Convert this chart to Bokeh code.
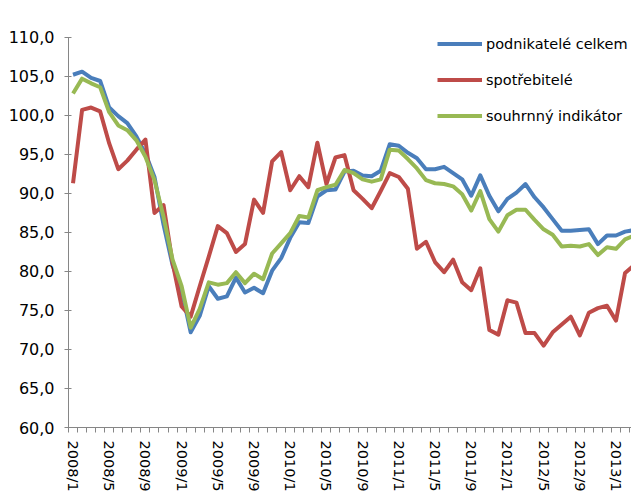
from bokeh.plotting import figure
from bokeh.models import FixedTicker, Legend, LegendItem, Range1d, ColumnDataSource
from bokeh.embed import file_html
from bokeh.resources import INLINE

# ---- data -------------------------------------------------------------
years = [2008, 2009, 2010, 2011, 2012, 2013]
months = [f"{y}/{m}" for y in years for m in range(1, 13)][:63]   # 2008/1 .. 2013/3

podnikatele = [105.2, 105.6, 104.8, 104.4, 101.0, 99.9, 99.0, 97.3, 95.1, 92.1,
               86.0, 80.8, 77.6, 72.2, 74.3, 78.1, 76.5, 76.8, 79.2, 77.3,
               77.9, 77.2, 80.1, 81.7, 84.3, 86.3, 86.2, 89.6, 90.4, 90.5,
               92.8, 92.9, 92.3, 92.2, 92.9, 96.3, 96.1, 95.2, 94.5, 93.1,
               93.1, 93.4, 92.6, 91.8, 89.7, 92.3, 89.7, 87.7, 89.3, 90.1,
               91.2, 89.5, 88.2, 86.7, 85.2, 85.2, 85.3, 85.4, 83.5, 84.6,
               84.6, 85.1, 85.3]

spotrebitele = [91.3, 100.7, 101.0, 100.5, 96.4, 93.1, 94.2, 95.6, 96.9, 87.5,
                88.5, 81.1, 75.5, 74.2, 78.1, 81.9, 85.8, 84.9, 82.5, 83.5,
                89.2, 87.5, 94.1, 95.3, 90.4, 92.2, 90.8, 96.5, 91.2, 94.6,
                94.9, 90.4, 89.3, 88.1, 90.3, 92.6, 92.1, 90.6, 82.9, 83.8,
                81.2, 79.9, 81.5, 78.6, 77.6, 80.4, 72.5, 71.9, 76.3, 76.0,
                72.1, 72.1, 70.5, 72.2, 73.2, 74.2, 71.8, 74.7, 75.3, 75.6,
                73.7, 79.8, 80.8]

souhrnny = [102.8, 104.7, 104.1, 103.6, 100.4, 98.7, 98.1, 96.8, 94.7, 91.7,
            87.0, 81.5, 78.1, 72.8, 75.2, 78.6, 78.3, 78.5, 79.9, 78.5,
            79.7, 79.0, 82.3, 83.6, 84.9, 87.1, 86.9, 90.4, 90.8, 91.1,
            93.0, 92.6, 91.8, 91.5, 91.8, 95.6, 95.5, 94.4, 93.2, 91.7,
            91.3, 91.2, 90.9, 89.9, 87.8, 90.3, 86.7, 85.1, 87.2, 87.9,
            87.9, 86.6, 85.4, 84.7, 83.2, 83.3, 83.2, 83.5, 82.1, 83.1,
            82.9, 84.1, 84.6]

series_names = ["podnikatelé celkem", "spotřebitelé", "souhrnný indikátor"]
y_ticks = [60, 65, 70, 75, 80, 85, 90, 95, 100, 105, 110]
y_tick_labels = ["60,0", "65,0", "70,0", "75,0", "80,0", "85,0", "90,0",
                 "95,0", "100,0", "105,0", "110,0"]

# ---- figure -----------------------------------------------------------
FONT = "DejaVu Sans"
idx = list(range(len(months)))
src = ColumnDataSource(dict(x=idx, a=podnikatele, b=spotrebitele, c=souhrnny))

p = figure(width=631, height=494, output_backend="svg", toolbar_location=None,
           x_range=Range1d(-0.5, 61.71), y_range=Range1d(60, 111),
           min_border_left=68, min_border_right=0, min_border_top=29,
           min_border_bottom=66)
p.outline_line_color = None
p.grid.visible = False

colors = ["#4A7EBB", "#BE4B48", "#98B954"]
r1 = p.line("x", "a", source=src, line_width=4, color=colors[0], line_join="round")
r2 = p.line("x", "b", source=src, line_width=4, color=colors[1], line_join="round")
r3 = p.line("x", "c", source=src, line_width=4, color=colors[2], line_join="round")

# y axis
ya = p.yaxis[0]
ya.bounds = (60, 110)
ya.ticker = FixedTicker(ticks=y_ticks, minor_ticks=[])
ya.major_label_overrides = {t: l for t, l in zip(y_ticks, y_tick_labels)}
ya.axis_line_color = "#868686"
ya.major_tick_line_color = "#868686"
ya.major_tick_in = 3
ya.major_tick_out = 4
ya.major_label_standoff = 10
ya.major_label_text_font = FONT
ya.major_label_text_font_size = "16px"
ya.major_label_text_color = "#000000"

# x axis
xa = p.xaxis[0]
major_x = idx[::4]
xa.ticker = FixedTicker(ticks=major_x, minor_ticks=[i - 0.5 for i in range(len(months))])
xa.major_label_overrides = {i: months[i] for i in major_x}
xa.major_label_orientation = "vertical"
xa.axis_line_color = "#868686"
xa.major_tick_line_color = None
xa.major_tick_in = 0
xa.major_tick_out = 0
xa.minor_tick_line_color = "#868686"
xa.minor_tick_in = 0
xa.minor_tick_out = 5
xa.major_label_standoff = 8
xa.major_label_text_font = FONT
xa.major_label_text_font_size = "14.5px"
xa.major_label_text_color = "#000000"

legend = Legend(items=[LegendItem(label=series_names[0], renderers=[r1]),
                       LegendItem(label=series_names[1], renderers=[r2]),
                       LegendItem(label=series_names[2], renderers=[r3])],
                location=(369, 303), orientation="vertical")
legend.border_line_color = None
legend.background_fill_alpha = 0
legend.padding = 0
legend.margin = 0
legend.spacing = 19
legend.label_height = 17
legend.glyph_height = 17
legend.glyph_width = 45
legend.label_standoff = 4
legend.label_text_font = FONT
legend.label_text_font_size = "14.5px"
legend.label_text_color = "#000000"
p.add_layout(legend)

open("out.html", "w").write(file_html(p, INLINE))
